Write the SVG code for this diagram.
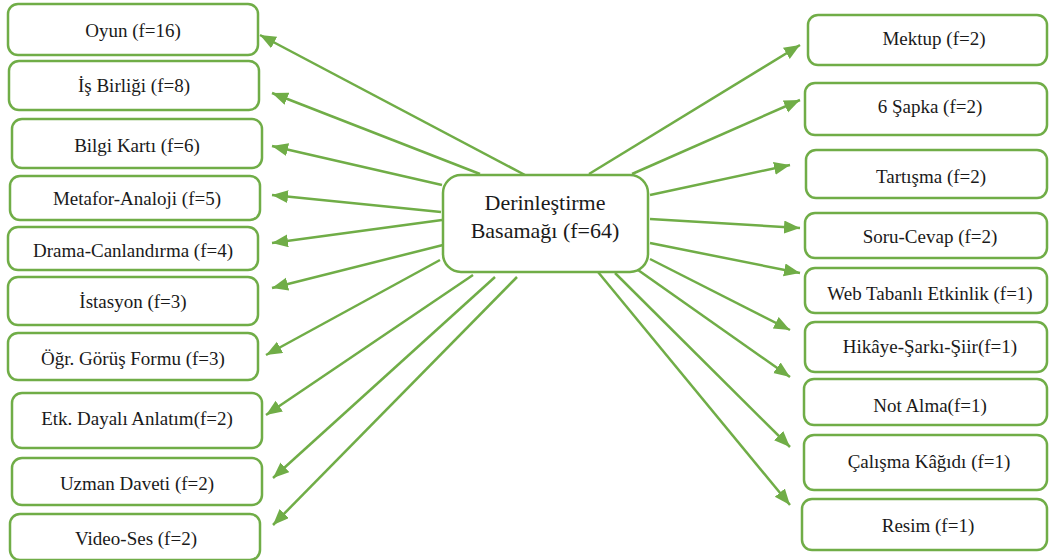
<svg xmlns="http://www.w3.org/2000/svg" width="1051" height="560" viewBox="0 0 1051 560">
<style>
.box{fill:#fff;stroke:#70AD47;stroke-width:2.5}
.t{font-family:'Liberation Serif','Times New Roman','DejaVu Serif',serif;font-size:19px;fill:#1a1a1a;text-anchor:middle}
.c{font-size:22px}
.e{stroke:#70AD47;stroke-width:2.5;fill:none;marker-end:url(#ah)}
</style>
<defs>
<marker id="ah" markerUnits="userSpaceOnUse" markerWidth="18" markerHeight="14" refX="16" refY="6.5" orient="auto">
<path d="M0,0 L16,6.5 L0,13 z" fill="#70AD47"/>
</marker>
</defs>
<rect width="1051" height="560" fill="#fff"/>
<g id="connectors">
<line class="e" x1="525" y1="175" x2="260" y2="35"/>
<line class="e" x1="480" y1="174" x2="272" y2="93"/>
<line class="e" x1="442" y1="185" x2="272" y2="146"/>
<line class="e" x1="441" y1="212" x2="272" y2="195"/>
<line class="e" x1="442" y1="220" x2="272" y2="243"/>
<line class="e" x1="443" y1="245" x2="272" y2="288"/>
<line class="e" x1="440" y1="260" x2="266" y2="355"/>
<line class="e" x1="473" y1="275" x2="266" y2="415"/>
<line class="e" x1="495" y1="277" x2="273" y2="478"/>
<line class="e" x1="517" y1="277" x2="273" y2="525"/>
<line class="e" x1="589" y1="174" x2="800" y2="45"/>
<line class="e" x1="632" y1="174" x2="800" y2="100"/>
<line class="e" x1="650" y1="195" x2="790" y2="165"/>
<line class="e" x1="650" y1="219" x2="800" y2="228"/>
<line class="e" x1="650" y1="243" x2="800" y2="273"/>
<line class="e" x1="650" y1="259" x2="790" y2="330"/>
<line class="e" x1="638" y1="270" x2="790" y2="377"/>
<line class="e" x1="615" y1="273" x2="790" y2="447"/>
<line class="e" x1="598" y1="272" x2="790" y2="505"/>
</g>
<g id="center"><rect class="box" x="443" y="175" width="205" height="97" rx="18"/><text class="t c" x="545" y="210" font-family="Liberation Serif">Derinleştirme</text><text class="t c" x="545" y="238" font-family="Liberation Serif">Basamağı (f=64)</text></g>
<g id="n-oyun"><rect class="box" x="8" y="4" width="250" height="51" rx="10"/><text class="t" x="133" y="37">Oyun (f=16)</text></g>
<g id="n-isbirligi"><rect class="box" x="9" y="61" width="250" height="49" rx="10"/><text class="t" x="134" y="92">İş Birliği (f=8)</text></g>
<g id="n-bilgi"><rect class="box" x="12" y="119" width="250" height="49" rx="10"/><text class="t" x="137" y="152">Bilgi Kartı (f=6)</text></g>
<g id="n-metafor"><rect class="box" x="10" y="176" width="250" height="44" rx="10"/><text class="t" x="137" y="205">Metafor-Analoji (f=5)</text></g>
<g id="n-drama"><rect class="box" x="8" y="227" width="250" height="43" rx="10"/><text class="t" x="133" y="257">Drama-Canlandırma (f=4)</text></g>
<g id="n-istasyon"><rect class="box" x="8" y="277" width="250" height="48" rx="10"/><text class="t" x="133" y="308">İstasyon (f=3)</text></g>
<g id="n-ogr"><rect class="box" x="8" y="333" width="250" height="47" rx="10"/><text class="t" x="133" y="365">Öğr. Görüş Formu (f=3)</text></g>
<g id="n-etk"><rect class="box" x="12" y="393" width="250" height="55" rx="10"/><text class="t" x="137" y="425">Etk. Dayalı Anlatım(f=2)</text></g>
<g id="n-uzman"><rect class="box" x="12" y="458" width="250" height="47" rx="10"/><text class="t" x="137" y="490">Uzman Daveti (f=2)</text></g>
<g id="n-video"><rect class="box" x="10" y="514" width="250" height="46" rx="10"/><text class="t" x="136" y="545">Video-Ses (f=2)</text></g>
<g id="n-mektup"><rect class="box" x="808" y="15" width="239" height="50" rx="10"/><text class="t" x="934" y="45">Mektup (f=2)</text></g>
<g id="n-sapka"><rect class="box" x="805" y="83" width="242" height="52" rx="10"/><text class="t" x="930" y="113">6 Şapka (f=2)</text></g>
<g id="n-tartisma"><rect class="box" x="806" y="150" width="241" height="48" rx="10"/><text class="t" x="931" y="183">Tartışma (f=2)</text></g>
<g id="n-soru"><rect class="box" x="805" y="213" width="242" height="45" rx="10"/><text class="t" x="930" y="243">Soru-Cevap (f=2)</text></g>
<g id="n-web"><rect class="box" x="805" y="268" width="242" height="45" rx="10"/><text class="t" x="930" y="300">Web Tabanlı Etkinlik (f=1)</text></g>
<g id="n-hikaye"><rect class="box" x="805" y="322" width="242" height="50" rx="10"/><text class="t" x="930" y="353">Hikâye-Şarkı-Şiir(f=1)</text></g>
<g id="n-not"><rect class="box" x="804" y="379" width="243" height="46" rx="10"/><text class="t" x="930" y="412">Not Alma(f=1)</text></g>
<g id="n-calisma"><rect class="box" x="804" y="435" width="243" height="55" rx="10"/><text class="t" x="929" y="468">Çalışma Kâğıdı (f=1)</text></g>
<g id="n-resim"><rect class="box" x="802" y="499" width="245" height="51" rx="10"/><text class="t" x="928" y="532">Resim (f=1)</text></g>
</svg>
